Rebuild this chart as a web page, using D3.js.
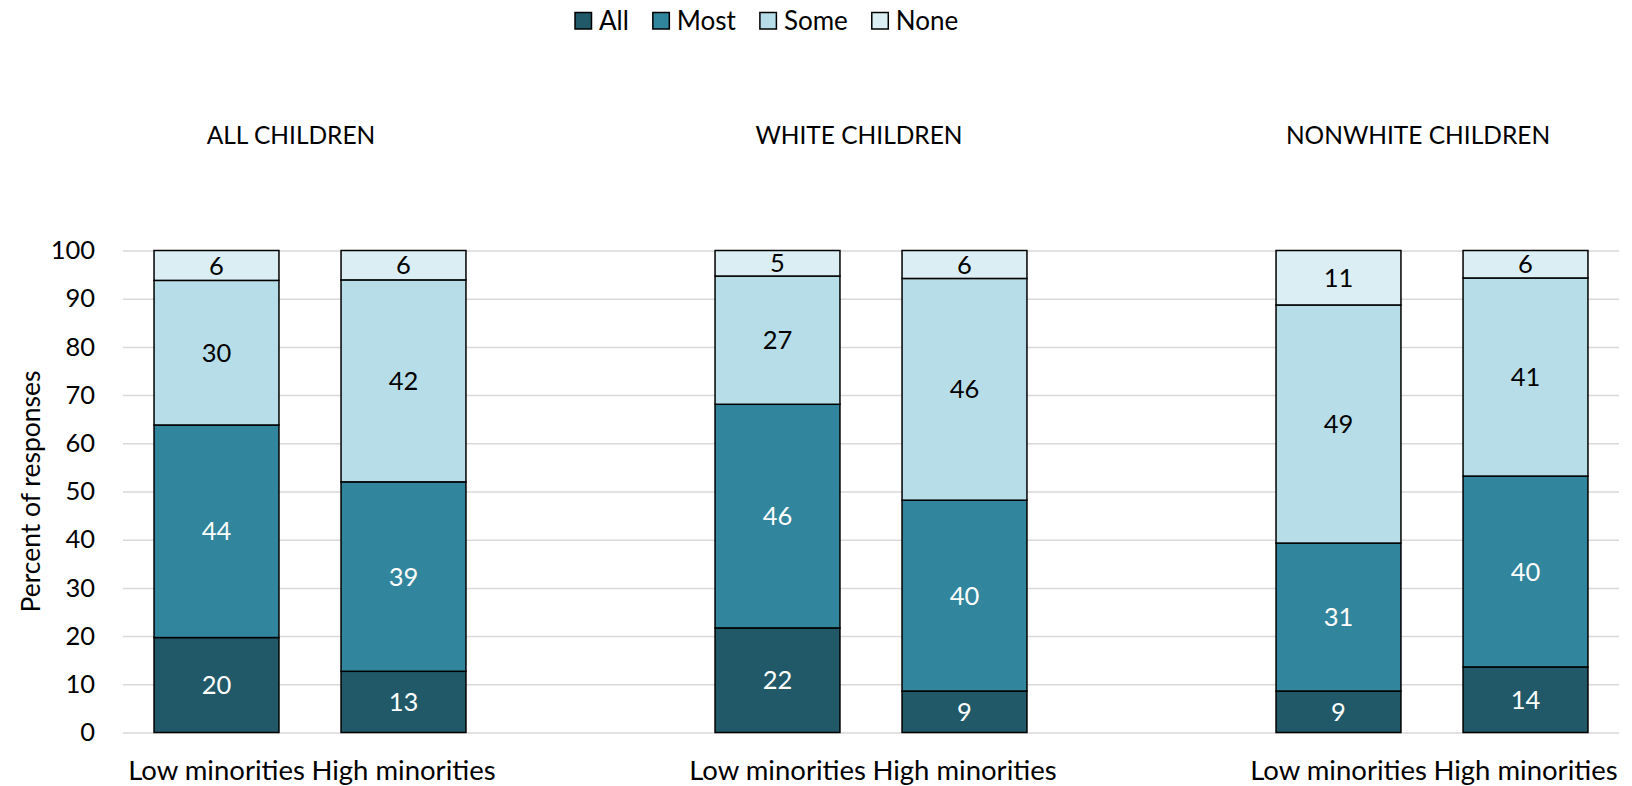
<!DOCTYPE html>
<html>
<head>
<meta charset="utf-8">
<script src="https://cdn.jsdelivr.net/npm/d3@7"></script>
<style>
  html, body { margin: 0; padding: 0; background: #fff; }
  svg { display: block; font-family: Lato, "Open Sans", sans-serif; }
</style>
</head>
<body>
<svg id="chart" width="1632" height="786"></svg>
<script>
// ---- data ----
const groups = ["ALL CHILDREN", "WHITE CHILDREN", "NONWHITE CHILDREN"];
const categories = ["Low minorities", "High minorities"];
const seriesNames = ["All", "Most", "Some", "None"];
// order: All-Low, All-High, White-Low, White-High, Nonwhite-Low, Nonwhite-High
const allValues  = [19.7, 12.7, 21.7, 8.6, 8.6, 13.6];
const mostValues = [44.1, 39.3, 46.4, 39.6, 30.7, 39.6];
const someValues = [30.0, 41.9, 26.6, 46.0, 49.4, 41.1];
const noneValues = [6.2, 6.1, 5.3, 5.8, 11.3, 5.7];
const yTicks = [0, 10, 20, 30, 40, 50, 60, 70, 80, 90, 100];
const yTitle = "Percent of responses";

// ---- styles ----
const colors = ["#215968", "#31859C", "#B7DEE8", "#DAEEF3"];
const labelColors = ["#ffffff", "#ffffff", "#000000", "#000000"];
const fontSize = 25.5;

const svg = d3.select("#chart");
const plot = { left: 123, right: 1619, top: 250.5, bottom: 732.5 };

// slot keys: two bars per group, an empty slot between groups
const slots = [];
groups.forEach((g, gi) => {
  categories.forEach((c, ci) => slots.push({ key: gi + "-" + ci, group: gi, cat: ci }));
  if (gi < groups.length - 1) slots.push({ key: "gap" + gi, gap: true });
});

const x = d3.scaleBand()
  .domain(slots.map(s => s.key))
  .range([plot.left, plot.right])
  .paddingInner(0.332)
  .paddingOuter(0.166);

const y = d3.scaleLinear().domain([0, 100]).range([plot.bottom, plot.top]);

// gridlines
svg.append("g")
  .attr("transform", `translate(${plot.left},0)`)
  .call(d3.axisLeft(y).tickValues(yTicks).tickSize(-(plot.right - plot.left)).tickFormat(""))
  .call(g => g.select(".domain").remove())
  .call(g => g.selectAll("line").attr("stroke", "#d9d9d9").attr("stroke-width", 1.5));

// y axis labels
svg.append("g")
  .attr("transform", `translate(${plot.left},0)`)
  .call(d3.axisLeft(y).tickValues(yTicks).tickSize(0).tickPadding(28))
  .call(g => g.select(".domain").remove())
  .call(g => g.selectAll("text")
    .attr("font-family", "Lato, 'Open Sans', sans-serif")
    .attr("font-size", fontSize)
    .attr("fill", "#000"));

// y title
svg.append("text")
  .attr("transform", `translate(40,${(plot.top + plot.bottom) / 2}) rotate(-90)`)
  .attr("text-anchor", "middle")
  .attr("font-size", 26.5)
  .attr("fill", "#000")
  .text(yTitle);

// stacked data
const rows = slots.filter(s => !s.gap).map((s, i) => {
  const obj = { key: s.key };
  obj.All = allValues[i];
  obj.Most = mostValues[i];
  obj.Some = someValues[i];
  obj.None = noneValues[i];
  return obj;
});
const stacked = d3.stack().keys(seriesNames)(rows);

const layers = svg.append("g").selectAll("g")
  .data(stacked)
  .join("g")
  .attr("fill", (d, i) => colors[i]);

layers.selectAll("rect")
  .data(d => d)
  .join("rect")
  .attr("x", d => x(d.data.key))
  .attr("width", x.bandwidth())
  .attr("y", d => y(d[1]))
  .attr("height", d => y(d[0]) - y(d[1]))
  .attr("stroke", "#000")
  .attr("stroke-width", 1.5);

// value labels
stacked.forEach((layer, li) => {
  svg.append("g").selectAll("text")
    .data(layer)
    .join("text")
    .attr("x", d => x(d.data.key) + x.bandwidth() / 2)
    .attr("y", d => (y(d[0]) + y(d[1])) / 2)
    .attr("dy", "0.36em")
    .attr("text-anchor", "middle")
    .attr("font-size", fontSize)
    .attr("fill", labelColors[li])
    .text(d => Math.round(d[1] - d[0]));
});

// category labels
svg.append("g").selectAll("text")
  .data(slots.filter(s => !s.gap))
  .join("text")
  .attr("x", d => x(d.key) + x.bandwidth() / 2)
  .attr("y", 780)
  .attr("text-anchor", "middle")
  .attr("font-size", 27.5)
  .attr("fill", "#000")
  .text(d => categories[d.cat]);

// group titles
const titleX = [291, 859, 1418];
svg.append("g").selectAll("text")
  .data(groups)
  .join("text")
  .attr("x", (d, i) => titleX[i])
  .attr("y", 144)
  .attr("text-anchor", "middle")
  .attr("font-size", 24.5)
  .attr("fill", "#000")
  .text(d => d);

// legend
const legend = svg.append("g");
let lx = 575;
seriesNames.forEach((name, i) => {
  legend.append("rect")
    .attr("x", lx).attr("y", 12.5)
    .attr("width", 16.5).attr("height", 16.5)
    .attr("fill", colors[i])
    .attr("stroke", "#000").attr("stroke-width", 1.5);
  const t = legend.append("text")
    .attr("x", lx + 24).attr("y", 29.5)
    .attr("font-size", 26)
    .attr("fill", "#000")
    .text(name);
  lx = lx + 24 + t.node().getComputedTextLength() + 24;
});
</script>
</body>
</html>
